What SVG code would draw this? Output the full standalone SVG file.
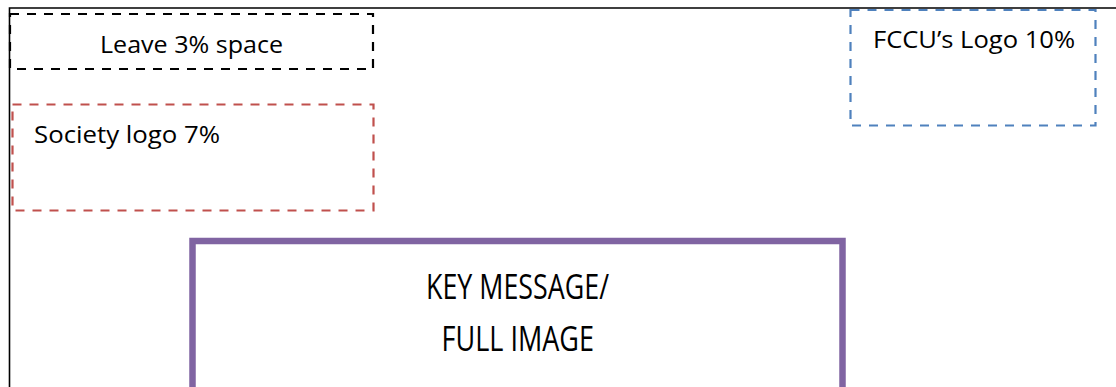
<svg xmlns="http://www.w3.org/2000/svg" width="1116" height="387" viewBox="0 0 1116 387">
  <style>
    .frame { fill: none; stroke: #000; stroke-width: 1.6; }
    .zone { fill: none; stroke-width: 2.2; stroke-dasharray: 9 8; }
    .label { font-family: "Open Sans", "Lato", "DejaVu Sans", sans-serif; fill: #000; }
  </style>
  <rect width="1116" height="387" fill="#fff"/>

  <!-- page frame -->
  <g id="page">
    <path class="frame" d="M9.5 387 V8 H1116"/>
  </g>

  <g id="margin">
    <rect class="zone" x="10" y="14" width="363" height="55" stroke="#000"/>
    <text class="label" x="100" y="53" font-size="24" textLength="183" lengthAdjust="spacingAndGlyphs">Leave 3% space</text>
  </g>

  <g id="society-logo">
    <rect class="zone" x="12.5" y="104.5" width="361" height="106" stroke="#C0504D"/>
    <text class="label" x="34" y="143" font-size="24" textLength="186" lengthAdjust="spacingAndGlyphs">Society logo 7%</text>
  </g>

  <g id="fccu-logo">
    <rect class="zone" x="850.5" y="10" width="245" height="115.5" stroke="#4F81BD"/>
    <text class="label" x="873" y="48" font-size="24" textLength="202" lengthAdjust="spacingAndGlyphs">FCCU’s Logo 10%</text>
  </g>

  <g id="key-message">
    <rect x="192.5" y="241" width="650" height="160" fill="none" stroke="#8064A2" stroke-width="6.5"/>
    <text class="label" x="426" y="298.5" font-size="34" textLength="183" lengthAdjust="spacingAndGlyphs">KEY MESSAGE/</text>
    <text class="label" x="441.5" y="350.5" font-size="34" textLength="152.5" lengthAdjust="spacingAndGlyphs">FULL IMAGE</text>
  </g>

  <g id="connectors"></g>
</svg>
